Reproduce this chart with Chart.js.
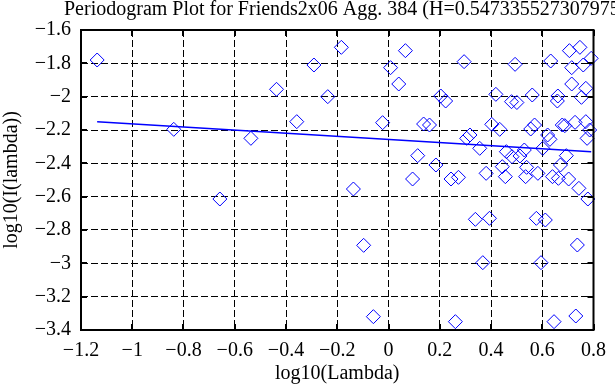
<!DOCTYPE html>
<html>
<head>
<meta charset="utf-8">
<script src="https://cdn.jsdelivr.net/npm/chart.js@4/dist/chart.umd.min.js"></script>
<style>
  html, body { margin: 0; padding: 0; background: #fff; }
  #wrap { width: 615px; height: 385px; }
</style>
</head>
<body>
<div id="wrap"><canvas id="c" width="615" height="385"></canvas></div>
<script>
// ---- data ----
const titleText = 'Periodogram Plot for Friends2x06 Agg. 384 (H=0.547335527307975)';
const xTitle = 'log10(Lambda)';
const yTitle = 'log10(I(lambda))';

const xTickValues = [-1.2, -1, -0.8, -0.6, -0.4, -0.2, 0, 0.2, 0.4, 0.6, 0.8];
const xTickLabels = ['\u22121.2', '\u22121', '\u22120.8', '\u22120.6', '\u22120.4', '\u22120.2', '0', '0.2', '0.4', '0.6', '0.8'];
const yTickValues = [-3.4, -3.2, -3, -2.8, -2.6, -2.4, -2.2, -2, -1.8, -1.6];
const yTickLabels = ['\u22123.4', '\u22123.2', '\u22123', '\u22122.8', '\u22122.6', '\u22122.4', '\u22122.2', '\u22122', '\u22121.8', '\u22121.6'];

const logLambda = [
  -1.137, -0.838, -0.658, -0.537, -0.437, -0.358, -0.291, -0.237, -0.184, -0.137,
  -0.097, -0.059, -0.023, 0.008, 0.040, 0.066, 0.094, 0.114, 0.137, 0.160,
  0.185, 0.204, 0.223, 0.244, 0.261, 0.273, 0.295, 0.305, 0.318, 0.339,
  0.356, 0.368, 0.381, 0.394, 0.403, 0.419, 0.434, 0.444, 0.456, 0.460,
  0.480, 0.482, 0.494, 0.501, 0.513, 0.530, 0.535, 0.539, 0.555, 0.561,
  0.570, 0.577, 0.583, 0.595, 0.602, 0.612, 0.621, 0.630, 0.633, 0.640,
  0.646, 0.659, 0.661, 0.671, 0.663, 0.678, 0.688, 0.694, 0.703, 0.706,
  0.715, 0.715, 0.728, 0.731, 0.737, 0.743, 0.747, 0.753, 0.760, 0.770,
  0.770, 0.775, 0.778, 0.785, 0.791
];
const logI = [
  -1.780, -2.196, -2.614, -2.250, -1.956, -2.150, -1.810, -2.000, -1.704, -2.554,
  -2.892, -3.320, -2.156, -1.826, -1.924, -1.724, -2.494, -2.354, -2.164, -2.170,
  -2.410, -1.996, -2.026, -2.494, -3.350, -2.484, -1.790, -2.250, -2.230, -2.736,
  -2.310, -2.996, -2.460, -2.730, -2.166, -1.986, -2.196, -2.420, -2.480, -2.330,
  -2.030, -2.360, -1.806, -2.035, -2.356, -2.320, -2.480, -2.424, -2.194, -1.990,
  -2.170, -2.730, -2.460, -2.996, -2.310, -2.740, -2.230, -2.256, -1.786, -2.480,
  -3.350, -2.026, -1.996, -2.410, -2.490, -2.170, -2.174, -2.354, -2.494, -1.724,
  -1.826, -1.924, -2.154, -3.316, -2.890, -2.550, -1.704, -2.004, -1.810, -1.950,
  -2.150, -2.250, -2.614, -2.200, -1.770
];
const fitX = [-1.137, 0.791];
const fitY = [-2.150, -2.330];

// ---- chart ----
const FONT = '"Liberation Serif", "Times New Roman", serif';
const FSIZE = 20;
const points = logLambda.map((x, i) => ({ x: x, y: logI[i] }));
const fitLine = fitX.map((x, i) => ({ x: x, y: fitY[i] }));

const framePlugin = {
  id: 'frame',
  beforeDraw(chart) {
    const ctx = chart.ctx;
    ctx.save();
    ctx.fillStyle = '#fff';
    ctx.fillRect(0, 0, chart.width, chart.height);
    ctx.restore();
  },
  afterDraw(chart) {
    const ctx = chart.ctx;
    const a = chart.chartArea;
    const xs = chart.scales.x, ys = chart.scales.y;
    ctx.save();
    ctx.strokeStyle = '#000';
    ctx.lineWidth = 2;
    ctx.strokeRect(a.left, a.top, a.right - a.left, a.bottom - a.top);
    const tl = 6;
    ctx.beginPath();
    xTickValues.forEach(v => {
      const p = Math.round(xs.getPixelForValue(v));
      ctx.moveTo(p, a.bottom); ctx.lineTo(p, a.bottom - tl);
      ctx.moveTo(p, a.top); ctx.lineTo(p, a.top + tl);
    });
    yTickValues.forEach(v => {
      const p = Math.round(ys.getPixelForValue(v));
      ctx.moveTo(a.left, p); ctx.lineTo(a.left + tl, p);
      ctx.moveTo(a.right, p); ctx.lineTo(a.right - tl, p);
    });
    ctx.stroke();
    // title
    ctx.fillStyle = '#000';
    ctx.font = FSIZE + 'px ' + FONT;
    ctx.textAlign = 'left';
    ctx.textBaseline = 'alphabetic';
    ctx.fillText(titleText, 64, 15);
    ctx.restore();
  }
};

new Chart(document.getElementById('c'), {
  type: 'scatter',
  data: {
    datasets: [
      {
        label: 'periodogram',
        data: points,
        pointStyle: 'rectRot',
        pointRadius: 7,
        pointHoverRadius: 7,
        borderColor: '#0000ff',
        backgroundColor: 'rgba(0,0,0,0)',
        pointBorderWidth: 1,
        borderWidth: 1,
        clip: false
      },
      {
        type: 'line',
        label: 'fit',
        data: fitLine,
        borderColor: '#0000ff',
        borderWidth: 1.5,
        pointRadius: 0,
        fill: false,
        tension: 0
      }
    ]
  },
  options: {
    responsive: false,
    animation: false,
    events: [],
    layout: { padding: { top: 30, right: 6, left: 0, bottom: 0 } },
    plugins: { legend: { display: false }, tooltip: { enabled: false }, title: { display: false } },
    scales: {
      x: {
        type: 'linear',
        min: -1.2, max: 0.8,
        afterBuildTicks: s => { s.ticks = xTickValues.map(v => ({ value: v })); },
        afterFit: s => { s.height = 55; },
        ticks: {
          autoSkip: false, maxRotation: 0, color: '#000', padding: 9,
          font: { family: FONT, size: FSIZE },
          callback: (v, i) => xTickLabels[i]
        },
        grid: { color: '#000', lineWidth: 1, drawTicks: false },
        border: { display: false, dash: [7, 3] },
        title: { display: true, text: xTitle, color: '#000', font: { family: FONT, size: FSIZE }, padding: { top: 0, bottom: -1 } }
      },
      y: {
        type: 'linear',
        min: -3.4, max: -1.6,
        afterBuildTicks: s => { s.ticks = yTickValues.map(v => ({ value: v })); },
        afterFit: s => { s.width = 81; },
        ticks: {
          autoSkip: false, color: '#000', padding: 10,
          font: { family: FONT, size: FSIZE },
          callback: (v, i) => yTickLabels[i]
        },
        grid: { color: '#000', lineWidth: 1, drawTicks: false },
        border: { display: false, dash: [7, 3] },
        title: { display: true, text: yTitle, color: '#000', font: { family: FONT, size: FSIZE }, padding: { top: 0, bottom: 0 } }
      }
    }
  },
  plugins: [framePlugin]
});
</script>
</body>
</html>
